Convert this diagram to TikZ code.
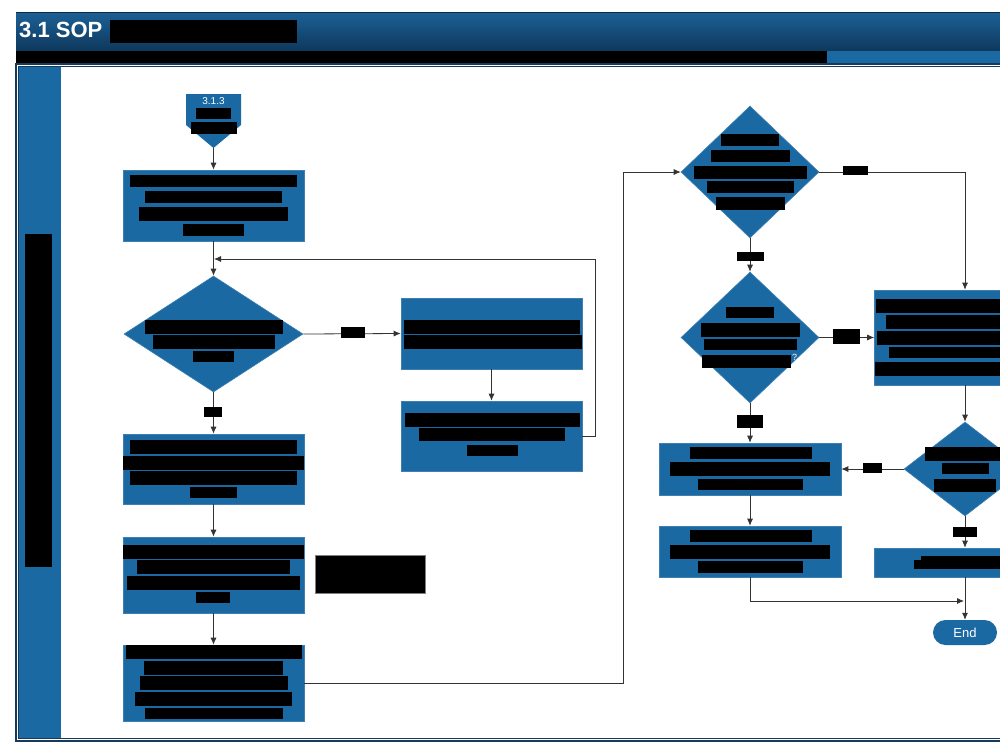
\documentclass[tikz,border=0pt]{standalone}
\usepackage{fontspec}
\setmainfont{Liberation Sans}
\usetikzlibrary{shapes.geometric,arrows.meta}
\definecolor{fcblue}{RGB}{27,105,163}
\definecolor{navy}{RGB}{24,58,90}
\definecolor{hdtop}{RGB}{28,96,150}
\definecolor{hdbot}{RGB}{14,56,92}
\newcommand\rbar[4]{\fill[black] (#1,#3) rectangle (#2,#4);}
\begin{document}
\begin{tikzpicture}[x=1pt,y=-1pt,
  proc/.style={rectangle, fill=fcblue, draw=fcblue!85!white, line width=0.6pt, inner sep=0pt},
  dec/.style={diamond, fill=fcblue, draw=fcblue!85!white, line width=0.6pt, inner sep=0pt},
  conn/.style={draw=black!80, line width=0.8pt},
  arr/.style={conn, -{Latex[length=7pt,width=6pt]}},
  lab/.style={fill=black}
]
\useasboundingbox (0,0) rectangle (1000,750);
\clip (0,0) rectangle (1000,750);
\fill[white] (0,0) rectangle (1000,750);
% header
\shade[top color=hdtop, bottom color=hdbot] (16,12) rectangle (1000,51);
\draw[navy!70!black, line width=1pt] (16,12) -- (1000,12);
\node[anchor=west, text=white, font=\bfseries\fontsize{22}{24}\selectfont, inner sep=0pt] (title) at (19,30) {3.1 SOP};
\rbar{110}{297}{20}{43}
\fill[black] (16,51) rectangle (827,64);
\fill[fcblue] (827,51) rectangle (1000,64);
% frame
\draw[navy, line width=1.2pt] (16,64) rectangle (1010,741);
\draw[navy, line width=0.5pt] (18.5,66.5) rectangle (1008,738.5);
\fill[fcblue] (19,67) rectangle (61,738);
\rbar{25}{52}{234}{567}
% start off-page connector
\fill[fcblue] (186,94) -- (241,94) -- (241,125) -- (213.5,148) -- (186,125) -- cycle;
\coordinate (start) at (213.5,148);
\node[text=white, font=\fontsize{10}{12}\selectfont, inner sep=0pt] (startlbl) at (213.5,101) {3.1.3};
\rbar{196}{231}{108}{119}
\rbar{191}{237}{122}{134}
% left column
\node[proc, minimum width=181pt, minimum height=71pt] (b1) at (213.5,205.5) {};
\node[dec, minimum width=179pt, minimum height=116pt] (d1) at (213.5,334) {};
\node[proc, minimum width=181pt, minimum height=70pt] (b4) at (213.5,469) {};
\node[proc, minimum width=181pt, minimum height=76pt] (b5) at (213.5,575) {};
\node[proc, minimum width=181pt, minimum height=76pt] (b6) at (213.5,683) {};
% middle column
\node[proc, minimum width=181pt, minimum height=71pt] (b2) at (491.5,333.5) {};
\node[proc, minimum width=181pt, minimum height=70pt] (b3) at (491.5,436) {};
\node[draw=gray, fill=black, minimum width=110pt, minimum height=38pt, inner sep=0pt] (note) at (370,574) {};
% right columns
\node[dec, minimum width=138pt, minimum height=132pt] (d2) at (750,172) {};
\node[dec, minimum width=138pt, minimum height=131pt] (d3) at (750,337.5) {};
\node[proc, minimum width=182pt, minimum height=52pt] (b8) at (750,469) {};
\node[proc, minimum width=182pt, minimum height=51pt] (b9) at (750,551.5) {};
\node[proc, minimum width=181pt, minimum height=95pt] (b7) at (965,337.5) {};
\node[dec, minimum width=122pt, minimum height=94pt] (d4) at (965,469) {};
\node[proc, minimum width=181pt, minimum height=29pt] (b10) at (965,562.5) {};
\node[fill=fcblue, rounded corners=12.5pt, minimum width=64pt, minimum height=25pt, inner sep=0pt, text=white, font=\fontsize{13}{15}\selectfont] (end) at (965,632.5) {End};
% connectors
\coordinate (loopin) at (214,259);
\coordinate (j1) at (623,683);
\coordinate (j2) at (964,601);
\draw[arr] (start) -- (b1.north);
\draw[arr] (b1.south) -- (d1.north);
\draw[arr] (d1.east) -- (b2.west);
\draw[arr] (b2.south) -- (b3.north);
\draw[arr] (b3.east) -- (595,436) |- (loopin);
\draw[arr] (d1.south) -- (b4.north);
\draw[arr] (b4.south) -- (b5.north);
\draw[arr] (b5.south) -- (b6.north);
\draw[arr] (b6.east) -- (j1) |- (d2.west);
\draw[arr] (d2.east) -| (b7.north);
\draw[arr] (d2.south) -- (d3.north);
\draw[arr] (d3.east) -- (b7.west |- d3.east);
\draw[arr] (d3.south) -- (b8.north);
\draw[arr] (b7.south) -- (d4.north);
\draw[arr] (d4.west) -- (b8.east |- d4.west);
\draw[arr] (d4.south) -- (b10.north);
\draw[arr] (b8.south) -- (b9.north);
\draw[arr] (b9.south) |- (j2);
\draw[arr] (b10.south) -- (end.north);
% connector labels (redacted)
\rbar{341}{365}{327}{338}
\rbar{204}{222}{407}{417}
\rbar{843}{868}{166}{175}
\rbar{737}{764}{252}{261}
\rbar{833}{860}{329}{344}
\rbar{737}{763}{415}{428}
\rbar{863}{882}{463}{473}
\rbar{953}{977}{527}{537}
% box texts (redacted)
\rbar{130}{297}{175}{187}
\rbar{145}{282}{191}{203}
\rbar{139}{288}{207}{221}
\rbar{183}{244}{224}{236}
\rbar{145}{283}{320}{334}
\rbar{153}{275}{335}{349}
\rbar{193}{234}{351}{362}
\rbar{404}{580}{320}{334}
\rbar{404}{582}{335}{349}
\rbar{405}{580}{413}{427}
\rbar{419}{565}{428}{441}
\rbar{467}{518}{445}{456}
\rbar{130}{297}{440}{454}
\rbar{123}{304}{456}{470}
\rbar{130}{297}{471}{485}
\rbar{190}{237}{487}{498}
\rbar{123}{304}{545}{559}
\rbar{137}{290}{560}{574}
\rbar{127}{300}{576}{590}
\rbar{196}{230}{592}{603}
\rbar{126}{302}{645}{659}
\rbar{144}{283}{661}{675}
\rbar{140}{288}{676}{690}
\rbar{135}{292}{692}{706}
\rbar{145}{283}{708}{719}
\rbar{721}{779}{134}{146}
\rbar{711}{790}{150}{162}
\rbar{694}{807}{166}{179}
\rbar{707}{794}{181}{193}
\rbar{716}{785}{197}{210}
\rbar{726}{774}{307}{318}
\rbar{701}{800}{323}{337}
\rbar{704}{797}{339}{350}
\rbar{702}{791}{355}{368}
\node[text=white, font=\fontsize{9}{10}\selectfont, inner sep=0pt] (qm) at (794.5,357) {?};
\rbar{876}{1000}{299}{313}
\rbar{886}{1000}{315}{329}
\rbar{877}{1000}{331}{345}
\rbar{889}{1000}{347}{358}
\rbar{875}{1000}{362}{376}
\rbar{925}{1000}{447}{461}
\rbar{942}{989}{463}{474}
\rbar{934}{996}{479}{492}
\rbar{690}{812}{447}{459}
\rbar{670}{830}{462}{476}
\rbar{698}{803}{479}{490}
\rbar{690}{812}{530}{542}
\rbar{670}{830}{545}{559}
\rbar{698}{803}{561}{573}
\rbar{921}{1000}{556}{560}
\rbar{914}{1000}{560}{569}
\end{tikzpicture}
\end{document}
